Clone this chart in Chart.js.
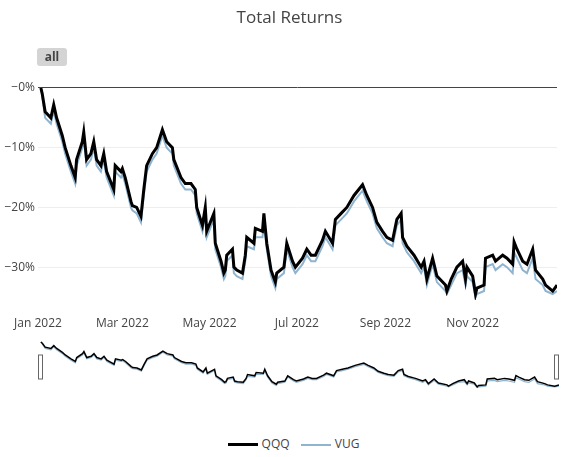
<!DOCTYPE html>
<html lang="en">
<head>
<meta charset="UTF-8" />
<title>Total Returns</title>
<script src="https://cdn.jsdelivr.net/npm/chart.js"></script>
<style>
  body { margin: 0; background: #fff; font-family: "Open Sans", sans-serif; color: #444; }
  #wrap { position: relative; width: 579px; height: 457px; }
  #title { position: absolute; top: 5px; left: 0; width: 579px; text-align: center; font-size: 17px; }
  #allBtn { position: absolute; left: 37px; top: 48px; width: 30px; height: 18px; background: #d4d4d4;
            border-radius: 3px; font-size: 12px; font-weight: bold; text-align: center; line-height: 18px; color: #444; }
  #main { position: absolute; left: 0; top: 0; }
  #mini { position: absolute; left: 38px; top: 340px; }
  #legend { position: absolute; top: 435px; left: 0; width: 579px; text-align: center; font-size: 12px; }
  .key { display: inline-block; width: 30px; height: 0; vertical-align: middle; margin: 0 4px 0 8px; }
</style>
</head>
<body>
<div id="wrap">
  <canvas id="main" width="579" height="335"></canvas>
  <canvas id="mini" width="521" height="54"></canvas>
  <div id="title">Total Returns</div>
  <div id="allBtn">all</div>
  <div id="legend">
    <span class="key" style="border-top:3px solid #000"></span>QQQ
    <span class="key" style="border-top:2px solid #8fb4d0"></span>VUG
  </div>
</div>
<script>
// trading dates (MM-DD, 2022)
const dates = ["01-03","01-04","01-06","01-10","01-12","01-14","01-18","01-20","01-24","01-27","01-28",
  "02-01","02-02","02-04","02-07","02-09","02-11","02-14","02-16","02-18","02-23","02-24","02-28",
  "03-01","03-03","03-07","03-08","03-11","03-14","03-16","03-18","03-22","03-25","03-29",
  "04-01","04-05","04-06","04-11","04-14","04-18","04-21","04-22","04-26","04-28","04-29",
  "05-04","05-05","05-09","05-11","05-12","05-13","05-17","05-18","05-20","05-24","05-26","05-27",
  "06-01","06-02","06-07","06-08","06-10","06-13","06-16","06-17","06-22","06-24","06-28","06-30",
  "07-05","07-08","07-11","07-14","07-19","07-21","07-26","07-28",
  "08-01","08-05","08-10","08-16","08-19","08-23","08-26","08-30",
  "09-02","09-06","09-09","09-12","09-13","09-16","09-21","09-26","09-28","09-30",
  "10-04","10-07","10-13","10-14","10-17","10-21","10-25","10-27","10-28",
  "11-01","11-03","11-04","11-09","11-10","11-15","11-17","11-22","11-25","11-29","11-30",
  "12-02","12-06","12-09","12-13","12-15","12-20","12-22","12-27","12-30"];
const qqq = [0,-1,-4,-5,-2.8,-5,-8,-10,-13,-15,-12,
  -9,-7.4,-12,-11,-9,-12,-13,-11,-14,-17,-13,-14,
  -13.5,-15,-19,-19.7,-20,-21.5,-17,-13,-11,-10,-7,
  -9,-10,-12,-15,-16,-16,-17,-20,-23,-20,-24,
  -21,-26,-29,-31,-30.5,-28,-27,-30,-30.5,-31,-28,-25,
  -26,-23.5,-24,-21,-26,-30.5,-32.5,-31,-30,-26,-29,-30,
  -28.5,-27,-28,-28,-25.5,-24,-26,-22,
  -21,-20,-18,-16.2,-18,-20,-22.5,-24,
  -25,-25.5,-22,-21,-25,-26.5,-28,-30,-29,-32,
  -28.5,-31.5,-33,-34,-32,-30,-29,-32,-30,
  -31.5,-34.5,-33.5,-33,-28.5,-28,-29,-28,-28.5,-29.5,-25.8,
  -27,-29,-29.5,-27,-30.5,-32,-33,-34,-33];
const vug = [0,-1.5,-5,-6,-3.8,-6,-9,-11,-14,-16,-13,
  -10,-8.5,-13,-12,-10,-13,-14,-12,-15,-18,-14,-15,
  -14.5,-16,-20,-20.5,-21,-22.5,-18,-14,-12,-11,-8,
  -10,-11,-13,-16,-17,-17,-18,-21,-24,-21,-25,
  -22,-27,-30,-32,-31.5,-29,-28,-31,-31.5,-32,-29,-26.5,
  -27,-25,-25,-22.5,-27,-31.5,-33.5,-32,-31,-27,-30,-31,
  -29.5,-28,-29,-29,-26.5,-25,-27,-23,
  -22,-21,-19,-17.2,-19,-21,-23.5,-25,
  -26,-26.5,-23,-22,-26,-27.5,-29,-31,-30,-33,
  -29.5,-32.5,-34,-34.5,-33,-31,-30.5,-33,-31.5,
  -32.5,-35,-34.5,-34,-30,-29.5,-30.5,-29.5,-30,-31,-27.5,
  -28.5,-30.5,-31,-28.5,-32,-33,-34,-34.5,-34];
const monthTicks = [0, 59, 120, 181, 243, 304];
const monthLabels = ["Jan 2022","Mar 2022","May 2022","Jul 2022","Sep 2022","Nov 2022"];
const yTicks = [0, -10, -20, -30];
const yLabels = ["\u22120%", "\u221210%", "\u221220%", "\u221230%"];

function dayOfYear(s) {
  const d = new Date("2022-" + s + "T00:00:00Z");
  return Math.round((d - Date.UTC(2022, 0, 1)) / 86400000);
}
const pts = arr => arr.map((v, i) => ({ x: dayOfYear(dates[i]), y: v }));

Chart.defaults.font.family = "'Open Sans', sans-serif";
Chart.defaults.font.size = 12;
Chart.defaults.color = "#444";

new Chart(document.getElementById("main"), {
  type: "line",
  data: {
    datasets: [
      { label: "QQQ", data: pts(qqq), borderColor: "#000", borderWidth: 3, pointRadius: 0, tension: 0 },
      { label: "VUG", data: pts(vug), borderColor: "#8fb4d0", borderWidth: 2, pointRadius: 0, tension: 0 }
    ]
  },
  options: {
    responsive: false, animation: false,
    layout: { padding: { top: 79, right: 22, left: 0, bottom: 0 } },
    plugins: { legend: { display: false }, tooltip: { enabled: false } },
    scales: {
      x: {
        type: "linear", min: 0, max: 363,
        afterBuildTicks: s => { s.ticks = monthTicks.map(v => ({ value: v })); },
        afterFit: s => { s.height = 35; },
        ticks: { callback: (v) => monthLabels[monthTicks.indexOf(v)], maxRotation: 0, padding: 8 },
        grid: { display: false }, border: { display: false }
      },
      y: {
        min: -35.5, max: 1.5,
        afterBuildTicks: s => { s.ticks = yTicks.map(v => ({ value: v })); },
        afterFit: s => { s.width = 38; },
        ticks: { callback: (v) => yLabels[yTicks.indexOf(v)], padding: 3 },
        grid: { color: c => c.tick.value === 0 ? "#444" : "#eeeeee", lineWidth: 1, drawTicks: false },
        border: { display: false }
      }
    }
  }
});

const handles = {
  id: "handles",
  afterDraw(chart) {
    const ctx = chart.ctx;
    ctx.save();
    ctx.fillStyle = "#fff";
    ctx.strokeStyle = "#666";
    ctx.lineWidth = 1;
    [[0.5, 15], [chart.width - 4.5, 15]].forEach(([x, y]) => {
      ctx.fillRect(x, y, 4, 24);
      ctx.strokeRect(x, y, 4, 24);
    });
    ctx.restore();
  }
};

new Chart(document.getElementById("mini"), {
  type: "line",
  data: {
    datasets: [
      { data: pts(qqq), borderColor: "#000", borderWidth: 1.5, pointRadius: 0 },
      { data: pts(vug), borderColor: "#8fb4d0", borderWidth: 1.2, pointRadius: 0 }
    ]
  },
  options: {
    responsive: false, animation: false,
    layout: { padding: 0 },
    plugins: { legend: { display: false }, tooltip: { enabled: false } },
    scales: {
      x: { type: "linear", min: 0, max: 363, display: false },
      y: { min: -40, max: 1.5, display: false }
    }
  },
  plugins: [handles]
});
</script>
</body>
</html>
